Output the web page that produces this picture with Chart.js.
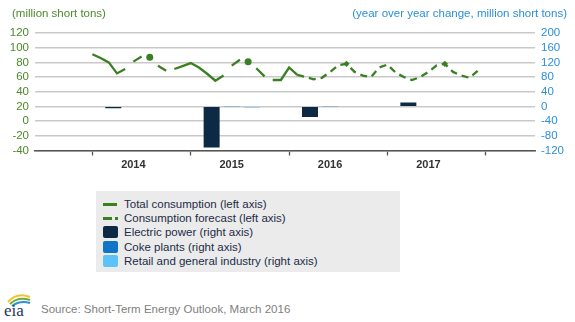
<!DOCTYPE html>
<html>
<head>
<meta charset="utf-8">
<script src="https://cdn.jsdelivr.net/npm/chart.js@4.4.1/dist/chart.umd.min.js"></script>
<style>
  body { margin: 0; background: #fff; font-family: 'Liberation Sans', Arial, sans-serif; }
  #wrap { position: relative; width: 575px; height: 322px; overflow: hidden; }
  #chart { position: absolute; left: 0; top: 0; }
  .axis-title { position: absolute; top: 7px; font-size: 11.5px; white-space: nowrap; }
  #leftTitle { left: 12px; color: #4b8b2b; }
  #rightTitle { right: 8px; color: #2b8fd8; }
  #legend { position: absolute; left: 96px; top: 191px; width: 304px; height: 81px; background: #ebebeb; }
  .item { position: absolute; left: 7px; height: 14px; line-height: 14px; font-size: 11.5px; color: #1d2b48; white-space: nowrap; }
  .item span.txt { position: absolute; left: 21px; top: 0; }
  .sym { position: absolute; top: 1px; left: 0; width: 15px; height: 12px; border-radius: 2px; }
  .solid { position: absolute; left: 0; top: 6px; width: 14px; height: 2.5px; background: #3b7f22; }
  .dash { position: absolute; left: 0; top: 6px; width: 9px; height: 2.5px; background: #3b7f22; }
  .dot { position: absolute; left: 12px; top: 6px; width: 2.5px; height: 2.5px; background: #3b7f22; }
  #source { position: absolute; left: 41px; top: 303px; font-size: 11.5px; color: #808080; white-space: nowrap; }
  #logo { position: absolute; left: 3px; top: 291px; }
</style>
</head>
<body>
<div id="wrap">
  <canvas id="chart" width="575" height="180"></canvas>
  <div class="axis-title" id="leftTitle">(million short tons)</div>
  <div class="axis-title" id="rightTitle">(year over year change, million short tons)</div>
  <div id="legend">
    <div class="item" style="top:6px"><i class="solid"></i><span class="txt">Total consumption (left axis)</span></div>
    <div class="item" style="top:20px"><i class="dash"></i><i class="dot"></i><span class="txt">Consumption forecast (left axis)</span></div>
    <div class="item" style="top:34px"><i class="sym" style="background:#0d2a45"></i><span class="txt">Electric power (right axis)</span></div>
    <div class="item" style="top:48.5px"><i class="sym" style="background:#0d74c6"></i><span class="txt">Coke plants (right axis)</span></div>
    <div class="item" style="top:62.5px"><i class="sym" style="background:#5cc2f7"></i><span class="txt">Retail and general industry (right axis)</span></div>
  </div>
  <svg id="logo" width="30" height="28" viewBox="0 0 30 28">
    <path d="M5 11 Q14 1 27 6" fill="none" stroke="#f2c230" stroke-width="2"/>
    <path d="M7 13 Q15 5 27 9" fill="none" stroke="#6cae3e" stroke-width="2"/>
    <path d="M9 15 Q17 9 27 12" fill="none" stroke="#2b93d4" stroke-width="2"/>
    <text x="1" y="25" font-family="Liberation Serif, serif" font-size="17" fill="#1b365d">eia</text>
  </svg>
  <div id="source">Source: Short-Term Energy Outlook, March 2016</div>
</div>
<script>
'use strict';

let years = ['2014', '2015', '2016', '2017'];

// monthly coal consumption, Jan 2014 - Feb 2016 (million short tons)
let totalConsumption = [91, 86, 80, 65, 71, 81, 88, 87, 75.5, 68.5, 71, 75,
  79, 73, 64.5, 55, 62, 75.5, 83.5, 81, 72, 61, 56, 56,
  73, 63];

// forecast, Feb 2016 - Dec 2017
let consumptionForecast = [63, 60, 57, 59, 67, 76, 78, 67, 62, 60, 73,
  77, 66, 60, 56, 60, 67, 76, 78, 67, 62, 59, 68.5];

// year over year change by sector (million short tons)
let electricPower = [-5, -112, -29, 11];
let cokePlants = [0, -1, -1, 0];
let retailIndustry = [0, -3, 0, 0];

let leftTicks = [120, 100, 80, 60, 40, 20, 0, -20, -40];
let rightTicks = [200, 160, 120, 80, 40, 0, -40, -80, -120];

let green = '#3b7f22';
let hiddenMonths = [4, 6, 7, 9]; // segments the original leaves open

Chart.defaults.font.family = "'Liberation Sans', Arial, sans-serif";

function monthPoints(values, start) {
  return values.map((v, i) => ({ x: start + i, y: v }));
}

function yearBars(values, offset) {
  return values.map((v, i) => ({ x: i * 12 + offset, y: v }));
}

function barSet(label, values, offset, color) {
  return {
    type: 'bar',
    label: label,
    data: yearBars(values, offset),
    yAxisID: 'y2',
    backgroundColor: color,
    barThickness: 16,
    inflateAmount: 0,
    grouped: false,
    order: 2
  };
}

let ctx = document.getElementById('chart').getContext('2d');

let chartObject = new Chart(ctx, {
  type: 'line',
  data: {
    datasets: [
      {
        label: 'Total consumption (left axis)',
        data: monthPoints(totalConsumption, 0),
        borderColor: green,
        backgroundColor: green,
        borderWidth: 2.3,
        tension: 0,
        pointRadius: c => (c.raw && c.raw.x % 12 === 7 ? 3.5 : 0),
        pointBorderWidth: 0,
        segment: {
          borderColor: c => (hiddenMonths.includes(c.p0DataIndex % 12) ? 'rgba(0,0,0,0)' : undefined)
        },
        yAxisID: 'y',
        order: 1
      },
      {
        label: 'Consumption forecast (left axis)',
        data: monthPoints(consumptionForecast, totalConsumption.length - 1),
        borderColor: green,
        backgroundColor: green,
        borderWidth: 2.3,
        borderDash: [7, 5],
        tension: 0,
        pointStyle: 'rectRot',
        pointRadius: c => (c.raw && c.raw.x % 12 === 7 ? 3.2 : 0),
        pointBorderWidth: 0,
        yAxisID: 'y',
        order: 1
      },
      barSet('Electric power (right axis)', electricPower, 2.55, '#0d2a45'),
      barSet('Coke plants (right axis)', cokePlants, 5, '#0d74c6'),
      barSet('Retail and general industry (right axis)', retailIndustry, 7.45, '#5cc2f7')
    ]
  },
  options: {
    responsive: false,
    animation: false,
    layout: { padding: { top: 33, left: 0, right: 0, bottom: 0 } },
    plugins: {
      legend: { display: false },
      tooltip: { enabled: false }
    },
    scales: {
      x: {
        type: 'linear',
        min: -7,
        max: 54,
        offset: false,
        afterBuildTicks: function (axis) {
          let ticks = [];
          for (let i = 0; i <= years.length; i++) {
            ticks.push({ value: i * 12 });
            if (i < years.length) {
              ticks.push({ value: i * 12 + 5 });
            }
          }
          axis.ticks = ticks;
        },
        afterFit: function (axis) {
          axis.height = 29.5;
        },
        ticks: {
          autoSkip: false,
          maxRotation: 0,
          padding: 3,
          color: '#333333',
          font: { size: 11, weight: 'bold' },
          callback: function (value) {
            return value % 12 === 5 ? years[(value - 5) / 12] : '';
          }
        },
        grid: {
          offset: false,
          drawOnChartArea: false,
          tickLength: 5,
          tickWidth: 1.3,
          tickColor: c => (c.tick && c.tick.value % 12 === 0 ? '#555555' : 'rgba(0,0,0,0)')
        },
        border: { color: '#555555', width: 1.5 }
      },
      y: {
        position: 'left',
        min: leftTicks[leftTicks.length - 1],
        max: leftTicks[0],
        afterFit: function (axis) {
          axis.width = 35;
        },
        ticks: {
          stepSize: leftTicks[0] - leftTicks[1],
          autoSkip: false,
          padding: 6,
          color: '#4b8b2b',
          font: { size: 11.5 }
        },
        grid: { color: '#c9c9c9', lineWidth: 1.5, drawTicks: false },
        border: { display: false }
      },
      y2: {
        position: 'right',
        min: rightTicks[rightTicks.length - 1],
        max: rightTicks[0],
        afterFit: function (axis) {
          axis.width = 40;
        },
        ticks: {
          stepSize: rightTicks[0] - rightTicks[1],
          autoSkip: false,
          padding: 6,
          color: '#2b8fd8',
          font: { size: 11.5 }
        },
        grid: { drawOnChartArea: false, drawTicks: false },
        border: { display: false }
      }
    }
  }
});
</script>
</body>
</html>
